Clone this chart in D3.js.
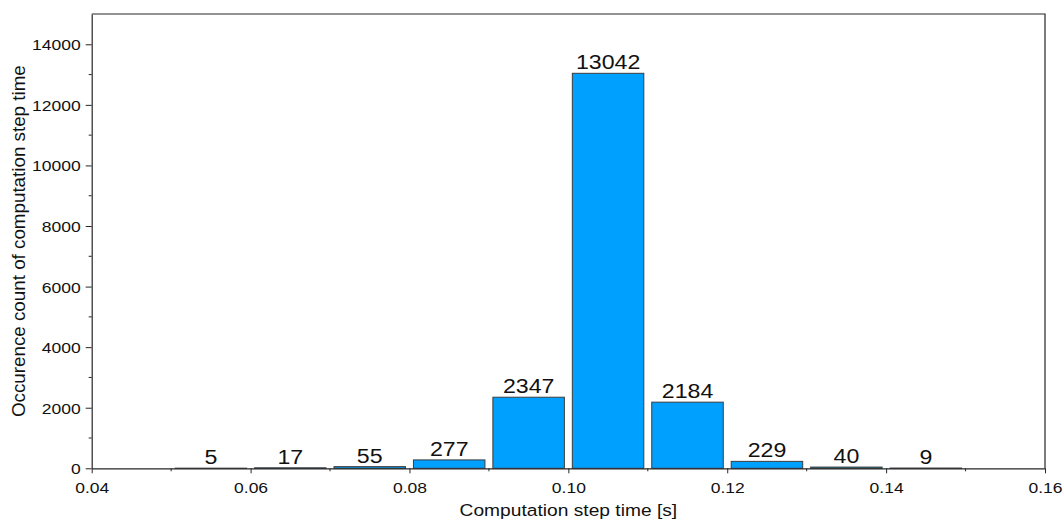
<!DOCTYPE html>
<html>
<head>
<meta charset="utf-8">
<script src="https://cdn.jsdelivr.net/npm/d3@7"></script>
<style>
  html, body { margin: 0; padding: 0; background: #fff; }
  svg { display: block; font-family: "Liberation Sans", Arial, sans-serif; }
</style>
</head>
<body>
<svg id="chart" width="1063" height="525"></svg>
<script>
// Histogram of computation step times: bin edges [s] and counts per bin
const binStarts = [0.05, 0.06, 0.07, 0.08, 0.09, 0.10, 0.11, 0.12, 0.13, 0.14];
const binWidth = 0.01;
const counts = [5, 17, 55, 277, 2347, 13042, 2184, 229, 40, 9];

const xMajorTicks = [0.04, 0.06, 0.08, 0.10, 0.12, 0.14, 0.16];
const xMinorTicks = [0.05, 0.07, 0.09, 0.11, 0.13, 0.15];
const yMajorTicks = [0, 2000, 4000, 6000, 8000, 10000, 12000, 14000];
const yMinorTicks = [1000, 3000, 5000, 7000, 9000, 11000, 13000];

const xTitle = "Computation step time [s]";
const yTitle = "Occurence count of computation step time";

const plot = { left: 91.7, right: 1045, top: 14, bottom: 468.3 };
const textStretch = 1.13;   // glyphs are drawn slightly wide
const axisColor = "#262626";
const tickFont = 15.5;

const svg = d3.select("#chart");

const x = d3.scaleLinear().domain([0.04, 0.16]).range([plot.left, plot.right]);
const y = d3.scaleLinear().domain([0, 15000]).range([plot.bottom, plot.top]);

// widen horizontal text around its anchor point
function stretch(sel) {
  sel.each(function () {
    const t = d3.select(this);
    const tx = +t.attr("x") || 0;
    const ty = +t.attr("y") || 0;
    t.attr("x", 0).attr("y", 0)
     .attr("transform", `translate(${tx},${ty}) scale(${textStretch},1)`);
  });
}

// bars
const bins = binStarts.map((s, i) => ({ x0: s, x1: s + binWidth, n: counts[i] }));
const inset = binWidth * 0.05;

svg.append("g").selectAll("rect")
  .data(bins)
  .join("rect")
  .attr("x", d => x(d.x0 + inset))
  .attr("width", d => x(d.x1 - inset) - x(d.x0 + inset))
  .attr("y", d => y(d.n))
  .attr("height", d => Math.max(0.01, y(0) - y(d.n)))
  .attr("fill", "#00A0FF")
  .attr("stroke", "#3c3c3c")
  .attr("stroke-width", 1);

// value labels
svg.append("g").selectAll("text")
  .data(bins)
  .join("text")
  .attr("x", d => x((d.x0 + d.x1) / 2))
  .attr("y", d => y(d.n) - 4)
  .attr("text-anchor", "middle")
  .attr("font-size", 20.5)
  .attr("fill", "#111")
  .text(d => d.n)
  .call(stretch);

// bottom axis
const xAxis = svg.append("g")
  .attr("transform", `translate(0,${plot.bottom})`)
  .call(d3.axisBottom(x).tickValues(xMajorTicks).tickFormat(d3.format(".2f"))
    .tickSize(5).tickPadding(8).tickSizeOuter(0));
xAxis.append("g").selectAll("line")
  .data(xMinorTicks)
  .join("line")
  .attr("x1", d => x(d)).attr("x2", d => x(d))
  .attr("y1", 0).attr("y2", 3)
  .attr("stroke", axisColor);

// left axis
const yAxis = svg.append("g")
  .attr("transform", `translate(${plot.left},0)`)
  .call(d3.axisLeft(y).tickValues(yMajorTicks).tickFormat(d3.format("d"))
    .tickSize(6).tickPadding(5).tickSizeOuter(0));
yAxis.append("g").selectAll("line")
  .data(yMinorTicks)
  .join("line")
  .attr("y1", d => y(d)).attr("y2", d => y(d))
  .attr("x1", 0).attr("x2", -3)
  .attr("stroke", axisColor);

[xAxis, yAxis].forEach(ax => {
  ax.selectAll("path.domain").attr("stroke", axisColor).attr("stroke-width", 1.2);
  ax.selectAll(".tick line").attr("stroke", axisColor);
  ax.selectAll(".tick text")
    .attr("font-size", tickFont)
    .attr("font-family", "Liberation Sans, Arial, sans-serif")
    .attr("fill", "#111");
});
xAxis.selectAll(".tick text")
  .attr("y", 24.2)
  .attr("dy", null)
  .call(stretch);
yAxis.selectAll(".tick text")
  .attr("y", 0.35 * tickFont)
  .attr("dy", null)
  .call(stretch);

// top and right frame
svg.append("path")
  .attr("d", `M${plot.left},${plot.top}H${plot.right}V${plot.bottom}`)
  .attr("fill", "none")
  .attr("stroke", axisColor)
  .attr("stroke-width", 1.2);

// axis titles
svg.append("text")
  .attr("x", (plot.left + plot.right) / 2)
  .attr("y", 516)
  .attr("text-anchor", "middle")
  .attr("font-size", 17)
  .attr("fill", "#111")
  .text(xTitle)
  .call(stretch);

svg.append("text")
  .attr("transform", `translate(25,${(plot.top + plot.bottom) / 2}) rotate(-90)`)
  .attr("text-anchor", "middle")
  .attr("font-size", 18.8)
  .attr("fill", "#111")
  .text(yTitle);
</script>
</body>
</html>
